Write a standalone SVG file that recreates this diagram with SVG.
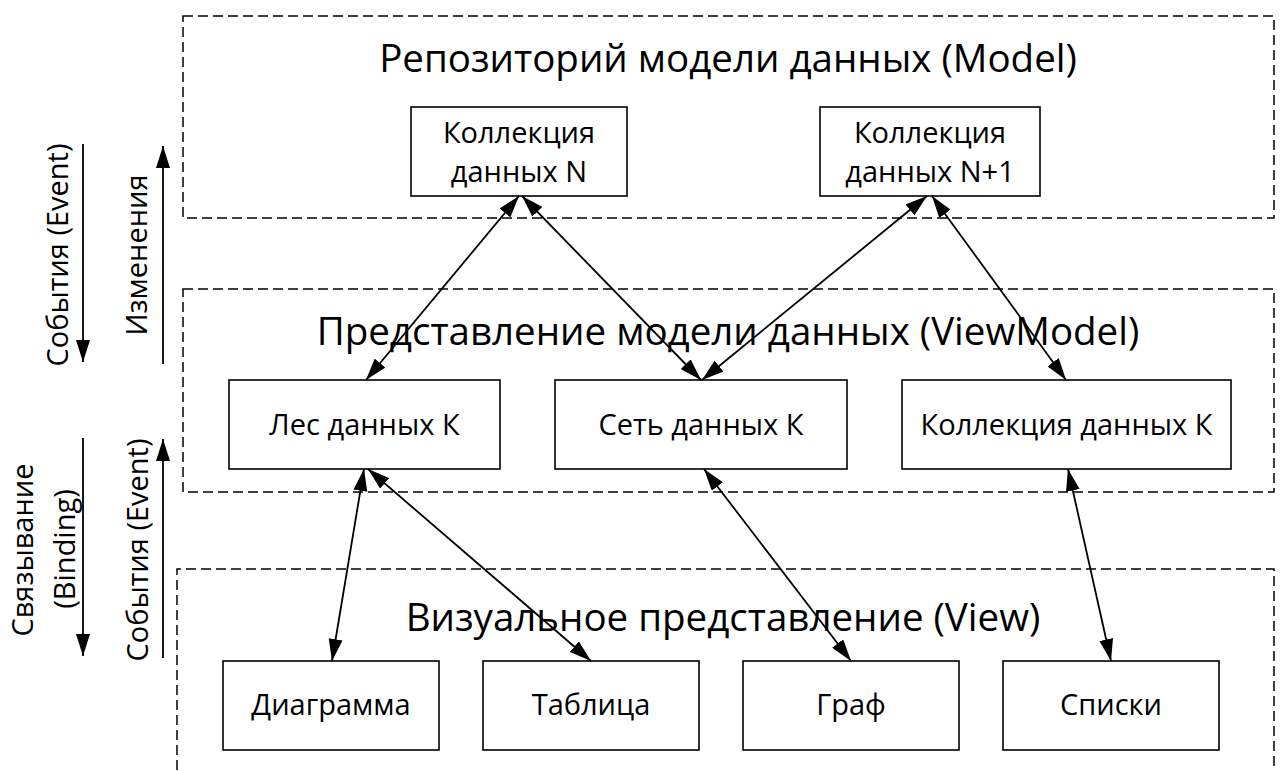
<svg xmlns="http://www.w3.org/2000/svg" width="1282" height="771" viewBox="0 0 1282 771">
<style>
.frame{fill:none;stroke:#000;stroke-width:1.5;stroke-dasharray:10 5}
.box{fill:#fff;stroke:#000;stroke-width:1.6}
.t{font-family:"Open Sans","Liberation Sans",sans-serif;fill:#000;text-anchor:middle}
.title{font-size:38.5px}
.lbl{font-size:29px}
.side{font-size:29px}
.con{fill:none;stroke:#000;stroke-width:1.8}
</style>
<defs>
<marker id="ah" viewBox="0 0 22 14" refX="22" refY="7" markerWidth="22" markerHeight="14" markerUnits="userSpaceOnUse" orient="auto-start-reverse">
<path d="M0,0 L22,7 L0,14 Z" fill="#000"/>
</marker>
</defs>
<rect width="1282" height="771" fill="#fff"/>

<g id="layer-model">
<rect class="frame" x="183" y="16" width="1091" height="202"/>
<text class="t title" x="728" y="72">Репозиторий модели данных (Model)</text>
</g>
<g id="layer-viewmodel">
<rect class="frame" x="183" y="289" width="1091" height="203"/>
<text class="t title" x="728" y="345">Представление модели данных (ViewModel)</text>
</g>
<g id="layer-view">
<path class="frame" d="M177,785 L177,569 L1274,569 L1274,785"/>
<text class="t title" x="723" y="631">Визуальное представление (View)</text>
</g>

<g id="coll-n">
<rect class="box" x="411" y="107" width="216" height="89"/>
<text class="t lbl" x="519" y="143">Коллекция</text>
<text class="t lbl" x="519" y="182">данных N</text>
</g>
<g id="coll-n1">
<rect class="box" x="820" y="107" width="220" height="89"/>
<text class="t lbl" x="930" y="143">Коллекция</text>
<text class="t lbl" x="930" y="182">данных N+1</text>
</g>

<g id="forest">
<rect class="box" x="229" y="380" width="271" height="89"/>
<text class="t lbl" x="364.5" y="435">Лес данных К</text>
</g>
<g id="net">
<rect class="box" x="555" y="380" width="292" height="89"/>
<text class="t lbl" x="701" y="435">Сеть данных К</text>
</g>
<g id="coll-k">
<rect class="box" x="902" y="380" width="329" height="89"/>
<text class="t lbl" x="1066.5" y="435">Коллекция данных К</text>
</g>

<g id="diagram">
<rect class="box" x="223" y="661" width="216" height="89"/>
<text class="t lbl" x="331" y="715">Диаграмма</text>
</g>
<g id="table">
<rect class="box" x="483" y="661" width="216" height="89"/>
<text class="t lbl" x="591" y="715">Таблица</text>
</g>
<g id="graph">
<rect class="box" x="743" y="661" width="216" height="89"/>
<text class="t lbl" x="851" y="715">Граф</text>
</g>
<g id="lists">
<rect class="box" x="1003" y="661" width="216" height="89"/>
<text class="t lbl" x="1111" y="715">Списки</text>
</g>

<g id="side-labels">
<text class="t side" transform="translate(68,255) rotate(-90)">События (Event)</text>
<text class="t side" transform="translate(147,255) rotate(-90)">Изменения</text>
<text class="t side" transform="translate(33,550) rotate(-90)">Связывание</text>
<text class="t side" transform="translate(75,549) rotate(-90)">(Binding)</text>
<text class="t side" transform="translate(148,550) rotate(-90)">События (Event)</text>
</g>

<g id="connectors">
<line class="con" x1="83" y1="144" x2="83" y2="362" marker-end="url(#ah)"/>
<line class="con" x1="163" y1="364" x2="163" y2="146" marker-end="url(#ah)"/>
<line class="con" x1="83" y1="438" x2="83" y2="656" marker-end="url(#ah)"/>
<line class="con" x1="163" y1="658" x2="163" y2="439" marker-end="url(#ah)"/>

<line class="con" x1="519" y1="196" x2="366" y2="380" marker-start="url(#ah)" marker-end="url(#ah)"/>
<line class="con" x1="522" y1="196" x2="701" y2="380" marker-start="url(#ah)" marker-end="url(#ah)"/>
<line class="con" x1="927" y1="196" x2="702" y2="380" marker-start="url(#ah)" marker-end="url(#ah)"/>
<line class="con" x1="932" y1="196" x2="1066" y2="380" marker-start="url(#ah)" marker-end="url(#ah)"/>
<line class="con" x1="364" y1="469" x2="332" y2="661" marker-start="url(#ah)" marker-end="url(#ah)"/>
<line class="con" x1="368" y1="469" x2="591" y2="661" marker-start="url(#ah)" marker-end="url(#ah)"/>
<line class="con" x1="704" y1="469" x2="851" y2="661" marker-start="url(#ah)" marker-end="url(#ah)"/>
<line class="con" x1="1068" y1="469" x2="1111" y2="661" marker-start="url(#ah)" marker-end="url(#ah)"/>
</g>
</svg>
